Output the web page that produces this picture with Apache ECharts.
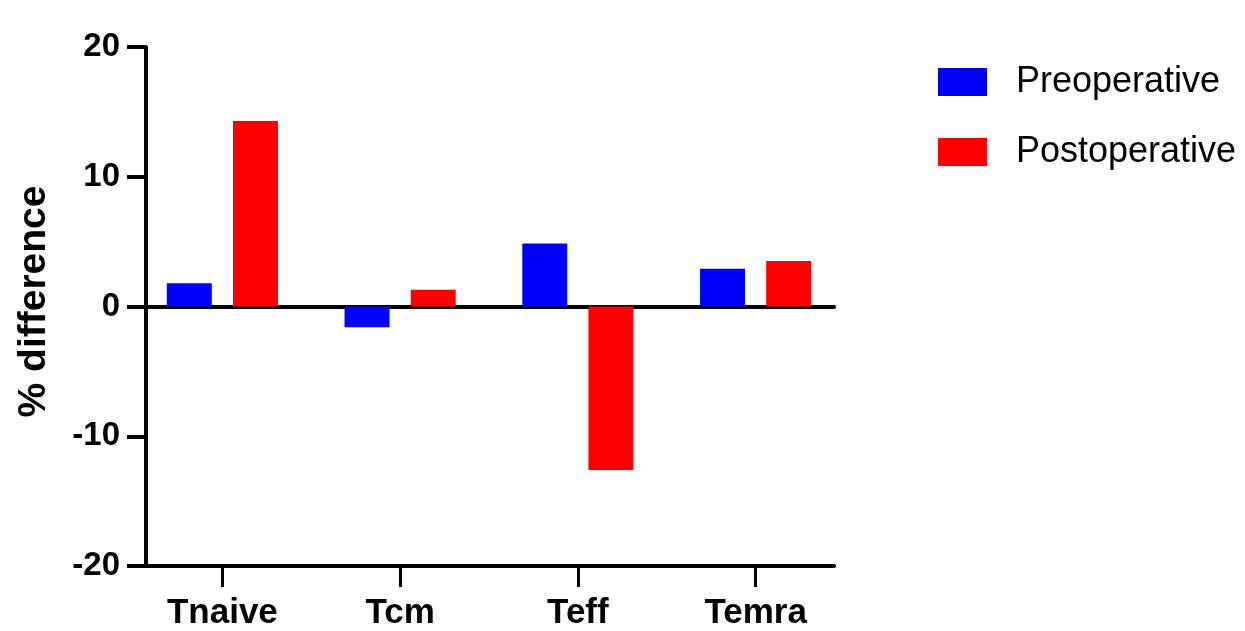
<!DOCTYPE html>
<html>
<head>
<meta charset="utf-8">
<script src="https://cdn.jsdelivr.net/npm/echarts@6/dist/echarts.min.js"></script>
<style>html,body{margin:0;padding:0;background:#fff;}#c{width:1245px;height:631px;}</style>
</head>
<body>
<div id="c"></div>
<script>
const categories = ['Tnaive', 'Tcm', 'Teff', 'Temra'];
const preoperative = [1.8, -1.6, 4.85, 2.9];
const postoperative = [14.3, 1.3, -12.6, 3.5];
const yTicks = { min: -20, max: 20, interval: 10 };
const seriesNames = ['Preoperative', 'Postoperative'];

const FONT = '"Liberation Sans", Arial, Helvetica, sans-serif';
const chart = echarts.init(document.getElementById('c'), null, { renderer: 'canvas' });
chart.setOption({
  animation: false,
  backgroundColor: '#ffffff',
  grid: [
    { left: 146, top: 47, width: 688, bottom: 65, containLabel: false },
    { left: 133.5, top: 47, width: 711, bottom: 65, containLabel: false }
  ],
  legend: {
    orient: 'vertical',
    left: 933,
    top: 59,
    itemWidth: 49,
    itemHeight: 28,
    itemGap: 34,
    icon: 'rect',
    data: seriesNames,
    textStyle: { fontFamily: FONT, fontSize: 36, color: '#000', padding: [0, 0, 0, 24] }
  },
  xAxis: [
    {
      gridIndex: 0, type: 'category', data: categories, position: 'bottom',
      axisLine: { onZero: false, lineStyle: { color: '#000', width: 4 } },
      axisTick: { show: false }, axisLabel: { show: false }, splitLine: { show: false }
    },
    {
      gridIndex: 0, type: 'category', data: categories, position: 'top',
      axisLine: { onZero: true, lineStyle: { color: '#000', width: 4 } },
      axisTick: { show: false }, axisLabel: { show: false }, splitLine: { show: false }
    },
    {
      gridIndex: 1, type: 'category', data: categories, position: 'bottom',
      axisLine: { show: false, onZero: false },
      axisTick: { show: true, alignWithLabel: true, length: 21, lineStyle: { color: '#000', width: 3 } },
      axisLabel: { margin: 30, fontFamily: FONT, fontSize: 35, fontWeight: 'bold', color: '#000' },
      splitLine: { show: false }
    }
  ],
  yAxis: [
    {
      gridIndex: 0, type: 'value', min: yTicks.min, max: yTicks.max, interval: yTicks.interval,
      name: '% difference', nameLocation: 'middle', nameGap: 92, nameRotate: 90,
      nameTextStyle: { fontFamily: FONT, fontSize: 39, fontWeight: 'bold', color: '#000', padding: [0, 0, 0, 10] },
      axisLine: { show: true, lineStyle: { color: '#000', width: 4 } },
      axisTick: { show: true, length: 19, lineStyle: { color: '#000', width: 4 } },
      axisLabel: { margin: 26, fontFamily: FONT, fontSize: 33, fontWeight: 'bold', color: '#000' },
      splitLine: { show: false }
    },
    {
      gridIndex: 1, type: 'value', min: yTicks.min, max: yTicks.max, interval: yTicks.interval,
      show: false, splitLine: { show: false }
    }
  ],
  series: [
    {
      name: seriesNames[0], type: 'bar', xAxisIndex: 2, yAxisIndex: 1,
      data: preoperative, barWidth: 45, barGap: '47%',
      itemStyle: { color: '#0000ff' }
    },
    {
      name: seriesNames[1], type: 'bar', xAxisIndex: 2, yAxisIndex: 1,
      data: postoperative, barWidth: 45, barGap: '47%',
      itemStyle: { color: '#ff0000' }
    }
  ]
});
</script>
</body>
</html>
